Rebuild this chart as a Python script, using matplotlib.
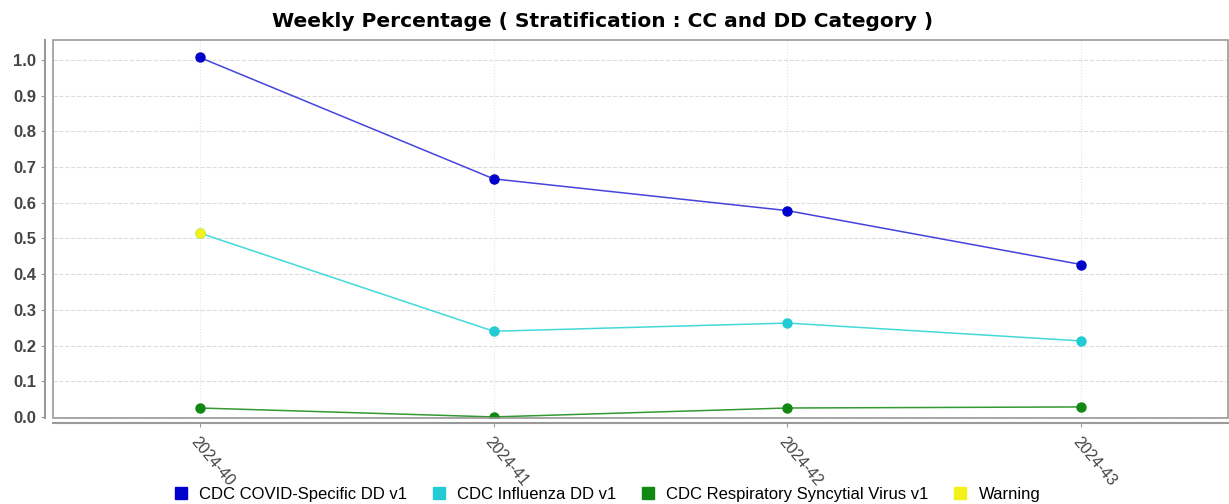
import numpy as np
import matplotlib
matplotlib.use("Agg")
import matplotlib.pyplot as plt
from matplotlib.patches import Rectangle

# data
weeks = ['2024-40', '2024-41', '2024-42', '2024-43']
covid = [1.007, 0.667, 0.578, 0.427]
influenza = [0.515, 0.240, 0.263, 0.213]
rsv = [0.025, 0.000, 0.025, 0.028]
warning_week = ['2024-40']
warning_val = [0.515]

series_names = ['CDC COVID-Specific DD v1', 'CDC Influenza DD v1',
                'CDC Respiratory Syncytial Virus v1', 'Warning']
colors = ['#0000CC', '#22CCD4', '#118811', '#F2F21A']
line_colors = ['#4444DD', '#44D8D8', '#339933']

plt.rcParams['font.family'] = ['Liberation Sans', 'DejaVu Sans']

fig = plt.figure(figsize=(12.29, 5.04), dpi=100)
ax = fig.add_axes([53 / 1229, 86 / 504, 1175 / 1229, 378 / 504])

x = np.arange(len(weeks))
for vals, c, lc in zip([covid, influenza, rsv], colors[:3], line_colors):
    ax.plot(x, vals, color=lc, linewidth=1.1, zorder=3)
    ax.plot(x, vals, 'o', color=c, markersize=6.5, zorder=4)

wx = [weeks.index(w) for w in warning_week]
ax.plot(wx, warning_val, 'o', color=colors[3], markersize=6.5, zorder=5)

ax.set_xlim(-0.5, len(weeks) - 0.5)
ax.set_ylim(-0.003, 1.056)
yt = np.arange(0, 1.01, 0.1)
ax.set_yticks(yt)
ax.set_yticklabels(['%.1f' % v for v in yt])
ax.set_xticks(x)
ax.set_xticklabels(weeks)

ax.grid(axis='y', color='#dddddd', linestyle='--', linewidth=0.8)
ax.grid(axis='x', color='#e4e4e4', linestyle=':', linewidth=0.8)

# offset axis lines like the original
for s in ['top', 'right']:
    ax.spines[s].set_visible(False)
ax.spines['left'].set_position(('outward', 5.5))
ax.spines['bottom'].set_position(('outward', 3.5))
for s in ['left', 'bottom']:
    ax.spines[s].set_color('#999999')
    ax.spines[s].set_linewidth(1.5)
ax.tick_params(axis='both', color='#999999', length=3)
ax.tick_params(axis='x', pad=5)
ax.add_patch(Rectangle((0, 0), 1, 1, transform=ax.transAxes, fill=False,
                       edgecolor='#999999', linewidth=1.2, clip_on=False, zorder=6))

for lab in ax.get_yticklabels():
    lab.set_fontsize(12)
    lab.set_fontweight('bold')
    lab.set_color('#444444')
for lab in ax.get_xticklabels():
    lab.set_rotation(-50)
    lab.set_rotation_mode('anchor')
    lab.set_ha('left')
    lab.set_va('top')
    lab.set_fontsize(11.5)
    lab.set_color('#444444')

fig.text(0.49, 0.957, 'Weekly Percentage ( Stratification : CC and DD Category )',
         fontsize=14.5, fontweight='bold', ha='center', va='center',
         family=['DejaVu Sans'])

handles = [plt.Line2D([], [], marker='s', linestyle='', color=c, markersize=8)
           for c in colors]
fig.legend(handles, series_names, loc='lower center', ncol=4, frameon=False,
           fontsize=12, handletextpad=0.1, columnspacing=0.9,
           bbox_to_anchor=(0.49, -0.025))

plt.savefig('out.png', dpi=100)
